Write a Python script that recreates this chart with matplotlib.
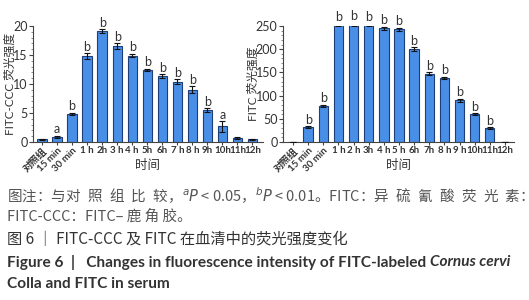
import numpy as np
import matplotlib
matplotlib.use("Agg")
import matplotlib.pyplot as plt
from matplotlib.ticker import MultipleLocator

plt.rcParams['font.family'] = ['Noto Sans CJK SC', 'DejaVu Sans']
plt.rcParams['mathtext.fontset'] = 'dejavusans'

# --- 数据 ---
labels_l = ['对照组', '15 min', '30 min', '1 h', '2h', '3 h', '4 h', '5h', '6h',
            '7 h', '8 h', '9h', '10h', '11h', '12h']
labels_r = ['对照组', '15 min', '30 min', '1 h', '2 h', '3h', '4 h', '5 h', '6h',
            '7h', '8 h', '9 h', '10h', '11h', '12h']
ccc_mean = [0.5, 0.9, 4.8, 14.8, 19.1, 16.5, 14.9, 12.4, 11.4, 10.4, 9.0, 5.5, 2.7, 0.7, 0.5]
ccc_err = [0.1, 0.2, 0.2, 0.5, 0.3, 0.5, 0.3, 0.2, 0.3, 0.4, 0.6, 0.3, 0.9, 0.2, 0.1]
ccc_sig = ['', 'a', 'b', 'b', 'b', 'b', 'b', 'b', 'b', 'b', 'b', 'b', 'a', '', '']
fitc_mean = [0, 32, 78, 252, 254, 253, 245, 243, 200, 147, 138, 90, 60, 30, 0]
fitc_err = [0, 2, 2, 3, 3, 2, 3, 3, 4, 3, 3, 3, 2, 2, 0]
fitc_sig = ['', 'b', 'b', 'b', 'b', 'b', 'b', 'b', 'b', 'b', 'b', 'b', 'b', 'b', '']

bar_c = '#4a8fe7'
edge_c = '#1c3f7a'
txt_c = '#333333'
lat = ['Lato', 'Noto Sans CJK SC']

fig = plt.figure(figsize=(5.29, 3.0), dpi=100)
W, H = 529, 300


def ax_at(x0, x1, ytop, ybot):
    return fig.add_axes([x0 / W, 1 - ybot / H, (x1 - x0) / W, (ybot - ytop) / H])


def draw_panel(ax, vals, errs, sig, labels, ymax, step, minor, ylabel, ylab_x, xl, xr, off):
    x = np.arange(len(vals))
    ax.bar(x, vals, width=0.62, color=bar_c, edgecolor=edge_c, linewidth=0.8, zorder=2)
    ax.errorbar(x, vals, yerr=errs, fmt='none', ecolor='#111111', elinewidth=0.8,
                capsize=2, capthick=0.8, zorder=3)
    for xi, v, e, s in zip(x, vals, errs, sig):
        if s:
            ax.text(xi, v + e + off, s, ha='center', va='bottom', fontsize=9,
                    color=txt_c, family=['Lato'])
    ax.set_xlim(xl, xr)
    ax.set_ylim(0, ymax)
    ax.yaxis.set_major_locator(MultipleLocator(step))
    ax.yaxis.set_minor_locator(MultipleLocator(minor))
    for s in ['top', 'right']:
        ax.spines[s].set_visible(False)
    for s in ['left', 'bottom']:
        ax.spines[s].set_linewidth(0.8)
        ax.spines[s].set_color('#444444')
    ax.tick_params(axis='y', which='major', length=3, labelsize=9, colors='#444444',
                   labelcolor=txt_c, pad=1)
    ax.tick_params(axis='y', which='minor', length=1.5, colors='#777777')
    ax.tick_params(axis='x', length=2, colors='#444444', labelcolor=txt_c, pad=1)
    for t in ax.get_yticklabels():
        t.set_family(['Lato'])
    ax.set_xticks(x)
    ax.set_xticklabels(labels, fontsize=7, family=lat, weight='bold')
    for i, t in enumerate(ax.get_xticklabels()):
        if i < 3:
            t.set_rotation(45)
            t.set_ha('right')
            t.set_rotation_mode('anchor')
    ax.set_ylabel(ylabel, fontsize=8.5, color=txt_c, va='center', family=lat)
    ax.yaxis.set_label_coords(ylab_x, 0.5)
    ax.set_xlabel('时间', fontsize=9, color=txt_c, va='center')
    ax.xaxis.set_label_coords(0.5, -0.2)


ax1 = ax_at(33, 263, 26, 142)
draw_panel(ax1, ccc_mean, ccc_err, ccc_sig, labels_l, 20, 5, 1,
           'FITC-CCC 荧光强度', -0.1, -0.6, 14.7, 0.1)
ax2 = ax_at(283, 514, 26, 142)
draw_panel(ax2, fitc_mean, fitc_err, fitc_sig, labels_r, 250, 50, 10,
           'FITC 荧光强度', -0.13, -0.66, 14.6, 1)

# --- 图注 ---
cap = '#555555'
sp = '\u2002'
fs = 10.5
fig.text(7 / W, 1 - 196 / H,
         '图注：与' + sp.join('对照组比较') + '，$^{a}P$ < 0.05，$^{b}P$ < 0.01。FITC：'
         + sp.join('异硫氰酸荧光素') + '：',
         fontsize=fs, color=cap, va='center')
fig.text(7 / W, 1 - 217 / H, 'FITC-CCC：FITC– ' + ' '.join('鹿角胶') + '。',
         fontsize=fs, color=cap, va='center')
fig.text(7 / W, 1 - 239 / H, '图 6 ｜ FITC-CCC 及 FITC 在血清中的荧光强度变化',
         fontsize=11, color='#333333', va='center')

# 英文图题：按参考宽度调整字号
fs_en = 10.5
t1 = fig.text(7 / W, 1 - 262 / H, 'Figure 6  |   Changes in fluorescence intensity of FITC-labeled ',
              fontsize=fs_en, color='#333333', va='center', weight='bold', family=['Lato'])
t2 = fig.text(0, 1 - 262 / H, 'Cornus cervi', fontsize=fs_en, color='#333333',
              va='center', weight='bold', style='italic', family=['Lato'])
fig.canvas.draw()
r = fig.canvas.get_renderer()
w = t1.get_window_extent(r).width + t2.get_window_extent(r).width
fs_en = fs_en * 506 / w
t1.set_fontsize(fs_en)
t2.set_fontsize(fs_en)
fig.canvas.draw()
t2.set_x(t1.get_window_extent(r).x1 / W)
fig.text(7 / W, 1 - 284 / H, 'Colla and FITC in serum', fontsize=fs_en, color='#333333',
         va='center', weight='bold', family=['Lato'])

fig.savefig('out.png', dpi=100)
